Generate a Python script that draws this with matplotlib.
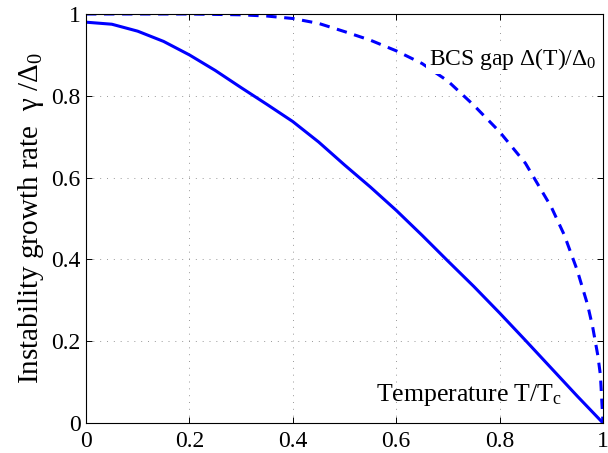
import matplotlib
matplotlib.use("Agg")
import matplotlib.pyplot as plt
import numpy as np

# ── Data ───────────────────────────────────────────────────────────────────────
temp_solid = [0.0, 0.05, 0.1, 0.15, 0.2, 0.25, 0.3, 0.35, 0.4, 0.45, 0.5,
              0.55, 0.6, 0.65, 0.7, 0.75, 0.8, 0.85, 0.9, 0.95, 1.0]
growth_rate = [0.980, 0.975, 0.958, 0.933, 0.900, 0.862, 0.820, 0.779, 0.737,
               0.687, 0.631, 0.577, 0.520, 0.459, 0.396, 0.334, 0.269, 0.202,
               0.134, 0.066, 0.0]

temp_gap = [0.0, 0.1, 0.2, 0.3, 0.35, 0.4, 0.45, 0.5, 0.55, 0.6, 0.65, 0.7,
            0.75, 0.8, 0.85, 0.9, 0.925, 0.95, 0.97, 0.98, 0.99, 0.995, 1.0]
bcs_gap = [1.0, 1.0, 1.0, 0.998, 0.995, 0.989, 0.977, 0.957, 0.936, 0.910,
           0.879, 0.836, 0.777, 0.712, 0.635, 0.528, 0.460, 0.374, 0.290,
           0.235, 0.165, 0.117, 0.0]

ticks = [0, 0.2, 0.4, 0.6, 0.8, 1]
tick_labels = ["0", "0.2", "0.4", "0.6", "0.8", "1"]

# ── Style ──────────────────────────────────────────────────────────────────────
plt.rcParams["font.family"] = ["Liberation Serif", "DejaVu Serif"]
plt.rcParams["mathtext.fontset"] = "custom"
plt.rcParams["mathtext.rm"] = "Liberation Serif"
plt.rcParams["mathtext.it"] = "Liberation Serif"
plt.rcParams["font.size"] = 17

fig = plt.figure(figsize=(6.08, 4.53), dpi=100)
ax = fig.add_axes([86 / 608, 30 / 453, 517 / 608, 409 / 453])

ax.plot(temp_solid, growth_rate, color="#0000ff", lw=2.2, zorder=2)
ax.plot(temp_gap, bcs_gap, color="#0000ff", lw=2.2, dashes=(3.4, 2.5),
        zorder=2)

ax.set_xlim(0, 1)
ax.set_ylim(0, 1)
ax.set_xticks(ticks)
ax.set_xticklabels(tick_labels)
ax.set_yticks(ticks)
ax.set_yticklabels(tick_labels)
ax.tick_params(direction="in", length=4, width=0.7, top=True, right=True,
               labelsize=17)
ax.tick_params(axis="x", pad=6)
ax.tick_params(axis="y", pad=4)
for sp in ax.spines.values():
    sp.set_linewidth(0.8)

ax.grid(True, color="0.55", lw=0.6, linestyle=(0, (1.2, 7)))
ax.set_axisbelow(True)

ax.set_ylabel("Instability growth rate  γ /Δ$_0$", fontsize=21, labelpad=4)

ax.text(0.663, 0.875, "BCS gap Δ(T)/Δ$_0$", fontsize=17, va="baseline",
        ha="left", zorder=5,
        bbox=dict(boxstyle="square,pad=0.1", fc="white", ec="none"))
ax.text(0.561, 0.054, "Temperature T/T$_c$", fontsize=18.5, va="baseline",
        ha="left", zorder=5)

fig.savefig("out.png", dpi=100)
